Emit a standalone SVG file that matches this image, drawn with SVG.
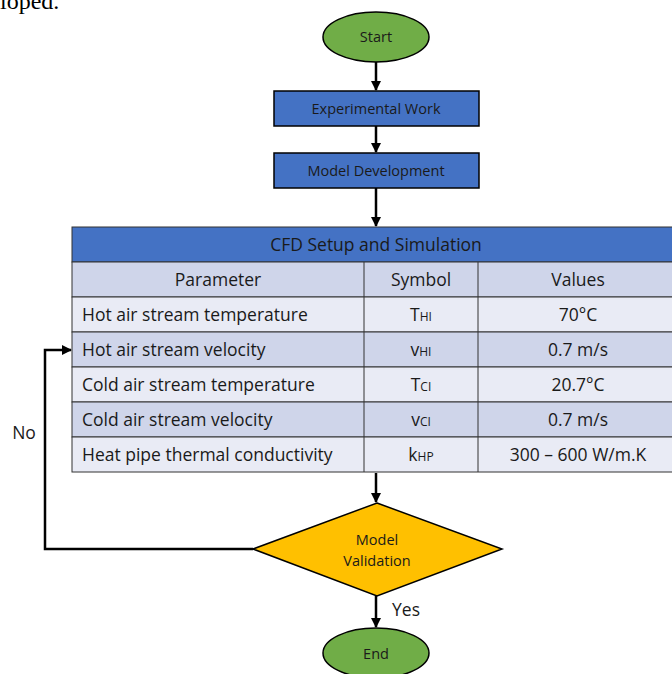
<svg xmlns="http://www.w3.org/2000/svg" width="672" height="674" viewBox="0 0 672 674">
<style>
.t{font-family:"Open Sans","Noto Sans",Arial,sans-serif;fill:#1a1a1a;text-anchor:middle}
.n{font-size:14.5px}
.c{font-size:17.5px}
.l{text-anchor:start}
.s{font-size:12px}
.ln{stroke:#000;stroke-width:2.5;fill:none}
.cell{stroke:#333;stroke-width:1}
</style>
<defs>
<marker id="ah" viewBox="0 0 10 10" refX="9" refY="5" markerWidth="4" markerHeight="4" orient="auto">
<path d="M0,0 L10,5 L0,10 z" fill="#000"/>
</marker>
</defs>
<rect width="672" height="674" fill="#fff"/>
<text x="0" y="9" font-family="Liberation Serif,serif" font-size="24" fill="#000">loped.</text>
<g id="connectors">
<line class="ln" x1="376" y1="62" x2="376" y2="90" marker-end="url(#ah)"/>
<line class="ln" x1="376" y1="126" x2="376" y2="152" marker-end="url(#ah)"/>
<line class="ln" x1="376" y1="188" x2="376" y2="226" marker-end="url(#ah)"/>
<line class="ln" x1="376" y1="473" x2="376" y2="502" marker-end="url(#ah)"/>
<line class="ln" x1="376" y1="596" x2="376" y2="627" marker-end="url(#ah)"/>
<polyline class="ln" points="253,549 45,549 45,350 71,350" marker-end="url(#ah)"/>
<text class="t c" x="24" y="439">No</text>
<text class="t c" x="406" y="616">Yes</text>
</g>
<g id="start">
<ellipse cx="376" cy="37" rx="53" ry="25" fill="#70AD47" stroke="#000" stroke-width="1.5"/>
<text class="t n" x="376" y="42">Start</text>
</g>
<g id="experimental">
<rect x="274" y="91" width="205" height="35" fill="#4472C4" stroke="#000" stroke-width="1.5"/>
<text class="t n" x="376" y="114">Experimental Work</text>
</g>
<g id="model">
<rect x="274" y="153" width="205" height="35" fill="#4472C4" stroke="#000" stroke-width="1.5"/>
<text class="t n" x="376" y="176">Model Development</text>
</g>
<g id="cfd-table">
<rect class="cell" x="72" y="227" width="610" height="35" fill="#4472C4"/>
<rect class="cell" x="72" y="262" width="610" height="35" fill="#CFD5EA"/>
<rect class="cell" x="72" y="297" width="610" height="35" fill="#E9EBF5"/>
<rect class="cell" x="72" y="332" width="610" height="35" fill="#CFD5EA"/>
<rect class="cell" x="72" y="367" width="610" height="35" fill="#E9EBF5"/>
<rect class="cell" x="72" y="402" width="610" height="35" fill="#CFD5EA"/>
<rect class="cell" x="72" y="437" width="610" height="35" fill="#E9EBF5"/>
<line class="cell" x1="364" y1="262" x2="364" y2="472"/>
<line class="cell" x1="478" y1="262" x2="478" y2="472"/>
<text class="t c" x="376" y="251">CFD Setup and Simulation</text>
<text class="t c" x="218" y="286">Parameter</text>
<text class="t c" x="421" y="286">Symbol</text>
<text class="t c" x="578" y="286">Values</text>
<text class="t c l" x="82" y="321">Hot air stream temperature</text>
<text class="t c l" x="82" y="356">Hot air stream velocity</text>
<text class="t c l" x="82" y="391">Cold air stream temperature</text>
<text class="t c l" x="82" y="426">Cold air stream velocity</text>
<text class="t c l" x="82" y="461">Heat pipe thermal conductivity</text>
<text class="t c" x="421" y="321">T<tspan class="s">HI</tspan></text>
<text class="t c" x="421" y="356">v<tspan class="s">HI</tspan></text>
<text class="t c" x="421" y="391">T<tspan class="s">CI</tspan></text>
<text class="t c" x="421" y="426">v<tspan class="s">CI</tspan></text>
<text class="t c" x="421" y="461">k<tspan class="s">HP</tspan></text>
<text class="t c" x="578" y="321">70°C</text>
<text class="t c" x="578" y="356">0.7 m/s</text>
<text class="t c" x="578" y="391">20.7°C</text>
<text class="t c" x="578" y="426">0.7 m/s</text>
<text class="t c" x="578" y="461">300 – 600 W/m.K</text>
</g>
<g id="validation">
<polygon points="377,503 502,549 377,596 253,549" fill="#FFC000" stroke="#000" stroke-width="1.5"/>
<text class="t n" x="377" y="545">Model</text>
<text class="t n" x="377" y="566">Validation</text>
</g>
<g id="end">
<ellipse cx="376" cy="653" rx="53" ry="25" fill="#70AD47" stroke="#000" stroke-width="1.5"/>
<text class="t n" x="376" y="659">End</text>
</g>
</svg>
